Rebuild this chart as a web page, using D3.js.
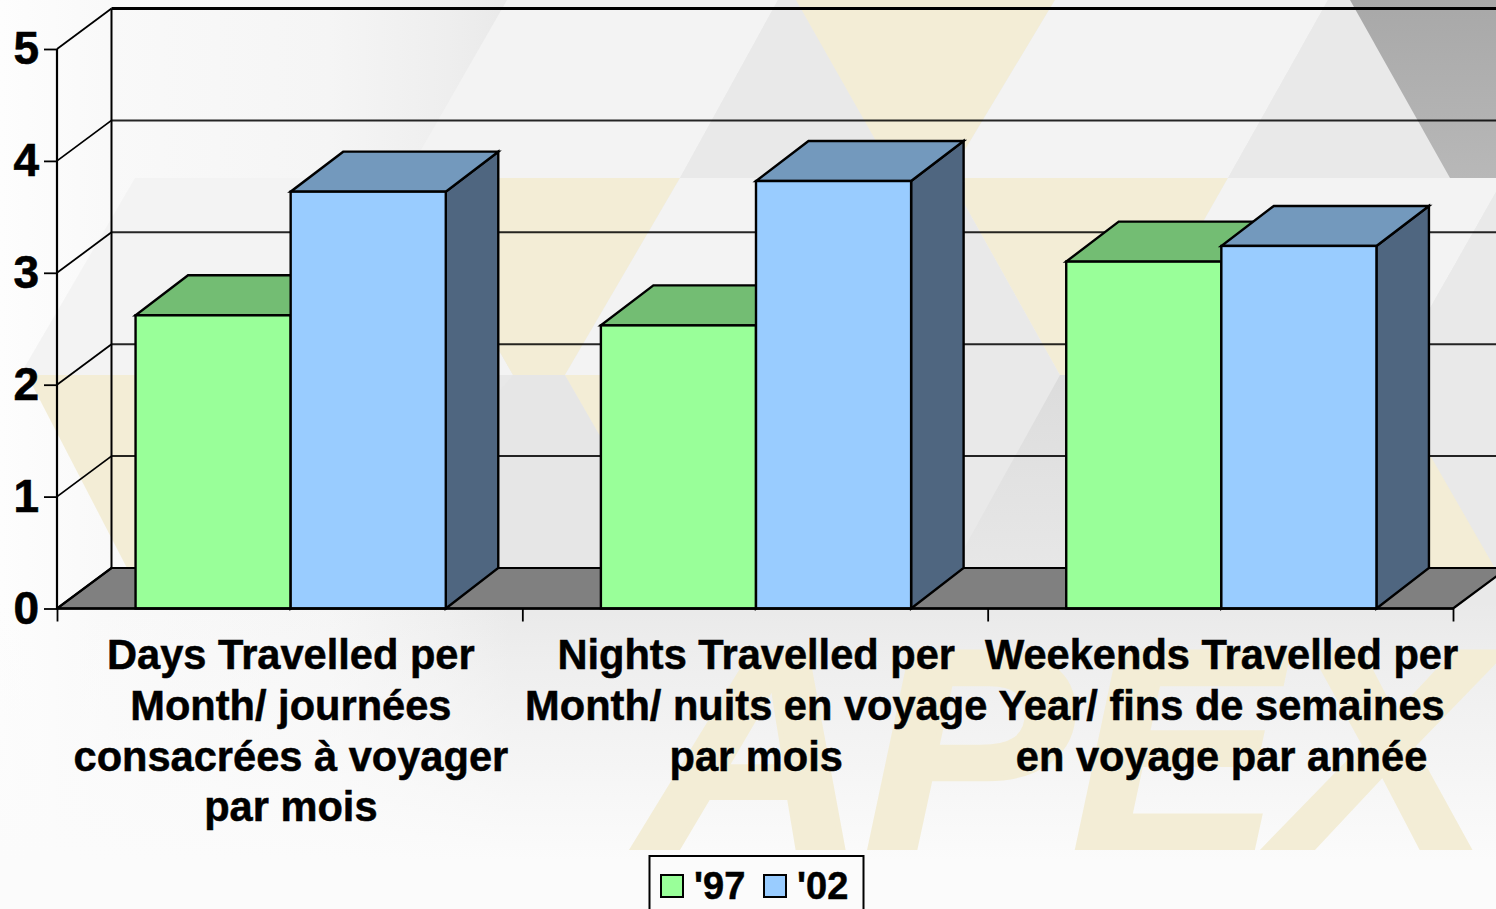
<!DOCTYPE html>
<html><head><meta charset="utf-8">
<script src="https://cdn.jsdelivr.net/npm/d3@7"></script>
<style>html,body{margin:0;padding:0;background:#fff;overflow:hidden}svg{display:block}text{font-family:"Liberation Sans",Arial,sans-serif;font-weight:700;fill:#000}</style>
</head><body><svg id="c" width="1496" height="909"></svg>
<script>
const categories = ["Days Travelled per Month/ journées consacrées à voyager par mois","Nights Travelled per Month/ nuits en voyage par mois","Weekends Travelled per Year/ fins de semaines en voyage par année"];
const categoryLines = [
  ["Days Travelled per","Month/ journées","consacrées à voyager","par mois"],
  ["Nights Travelled per","Month/ nuits en voyage","par mois"],
  ["Weekends Travelled per","Year/ fins de semaines","en voyage par année"]
];
const seriesNames = ["'97","'02"];
const values97 = [2.62,2.53,3.10];
const values02 = [3.725,3.82,3.24];
const yTicks = [0,1,2,3,4,5];

const seriesColors = {"'97":{front:"#99ff99",top:"#73bd73",side:"#4f8050"},"'02":{front:"#99ccff",top:"#7399bd",side:"#4f6680"}};
const Y = "#f3edd6", F3 = "#f3f3f3", E8 = "#e9e9e9";
const backdrop = [
  [F3,[[507,0],[778,0],[680,178],[405,178]]],
  [E8,[[778,0],[800,0],[897,178],[680,178]]],
  [Y,[[796,0],[1055,0],[948,178],[897,178]]],
  [F3,[[1055,0],[1328,0],[1228,178],[948,178]]],
  [E8,[[1328,0],[1350,0],[1450,178],[1228,178]]],
  ["url(#dark)",[[1350,0],[1496,0],[1496,178],[1450,178]]],
  [F3,[[135,178],[400,178],[513,375],[20,375]]],
  [Y,[[400,178],[680,178],[565,375],[513,375]]],
  [F3,[[680,178],[950,178],[1060,375],[565,375]]],
  [E8,[[950,178],[1060,375],[800,375]]],
  [Y,[[950,178],[1228,178],[1116,375],[1060,375]]],
  [F3,[[1228,178],[1504,178],[1392,375],[1116,375]]],
  [E8,[[1504,178],[1496,375],[1392,375]]],
  [Y,[[27,375],[300,375],[300,570],[128,570]]],
  ["#e8e8e8",[[300,375],[513,375],[620,570],[300,570]]],
  [F3,[[513,375],[565,375],[510,470]]],
  ["#e6e6e6",[[513,375],[565,375],[620,470],[620,570],[500,570],[500,390]]],
  [Y,[[565,375],[800,375],[700,570],[677,570]]],
  ["#e9e9e9",[[800,375],[1060,375],[950,570],[700,570]]],
  ["url(#wedge)",[[1060,375],[1120,375],[1120,570],[952,570]]],
  [E8,[[1120,375],[1496,375],[1496,570],[1120,570]]],
  [Y,[[1384,375],[1496,570],[1384,570]]]
];

const W=1496,H=909;
const front={left:57,right:1453,y0:608.5,y5:49};
const depth={wallX:54.5,barX:52.5,wallDy:-40.5,barDy:-40};
const barShift=1;
const svg=d3.select("#c");
const defs=svg.append("defs");
const lg=(id,x2,y2,stops)=>{const g=defs.append("linearGradient").attr("id",id).attr("x1",0).attr("y1",0).attr("x2",x2).attr("y2",y2);
  stops.forEach(([o,c,a])=>g.append("stop").attr("offset",o).attr("stop-color",c).attr("stop-opacity",a==null?1:a));};
lg("base",1,0,[[0,"#fdfdfd"],[.07,"#f9f9f9"],[.22,"#f5f5f5"],[.3,"#eeeeee"],[.34,"#e9e9e9"],[1,"#e9e9e9"]]);
lg("fade",0,1,[[0,"#fbfbfb",0],[.25,"#fbfbfb",.3],[1,"#fbfbfb",1]]);
lg("dark",0,1,[[0,"#a8a8a8"],[1,"#b8b8b8"]]);
lg("wedge",0,1,[[0,"#dcdcdc"],[1,"#e7e7e7"]]);

const bg=svg.append("g");
bg.append("rect").attr("width",W).attr("height",H).attr("fill","url(#base)");
bg.selectAll("polygon").data(backdrop).join("polygon").attr("fill",d=>d[0]).attr("points",d=>d[1].join(" "));
bg.append("rect").attr("y",570).attr("width",W).attr("height",H-570).attr("fill","url(#base)");
bg.append("rect").attr("y",600).attr("width",W).attr("height",260).attr("fill","url(#fade)");
bg.append("rect").attr("y",860).attr("width",W).attr("height",H-860).attr("fill","#fbfbfb");
bg.append("text").text("APEX").attr("x",640).attr("y",847.5).attr("font-size",284).attr("font-style","italic")
  .attr("textLength",848).attr("lengthAdjust","spacingAndGlyphs").style("fill",Y)
  .attr("stroke",Y).attr("stroke-width",5).attr("stroke-linejoin","miter");

const y=d3.scaleLinear().domain([0,5]).range([front.y0,front.y5]);
const x0=d3.scaleBand().domain(categories).range([front.left,front.right]).paddingInner(1/3).paddingOuter(1/6);
const x1=d3.scaleBand().domain(seriesNames).range([0,x0.bandwidth()]);
const ink="#000";

// floor
svg.append("polygon").attr("fill","#808080").attr("stroke",ink).attr("stroke-width",2.2).attr("stroke-linejoin","round")
  .attr("points",[[front.left,y(0)],[front.right,y(0)],[front.right+depth.wallX,y(0)+depth.wallDy],[front.left+depth.wallX,y(0)+depth.wallDy]].join(" "));
// gridlines on back and side wall
const gy=svg.append("g").attr("fill","none").attr("stroke",ink);
gy.selectAll("line.back").data(yTicks.filter(t=>t>0)).join("line").attr("class","back")
  .attr("x1",front.left+depth.wallX).attr("x2",W+20).attr("y1",d=>y(d)+depth.wallDy).attr("y2",d=>y(d)+depth.wallDy)
  .attr("stroke-width",d=>d===5?2.8:2).attr("stroke-opacity",d=>d===5?1:.85);
gy.selectAll("line.side").data(yTicks).join("line").attr("class","side")
  .attr("x1",front.left).attr("x2",front.left+depth.wallX).attr("y1",d=>y(d)).attr("y2",d=>y(d)+depth.wallDy).attr("stroke-width",1.8);
gy.append("line").attr("x1",front.left+depth.wallX).attr("x2",front.left+depth.wallX).attr("y1",y(5)+depth.wallDy).attr("y2",y(0)+depth.wallDy).attr("stroke-width",2);

// bars
const bars=svg.append("g").selectAll("g").data(categories).join("g").attr("transform",c=>`translate(${x0(c)+barShift},0)`);
const rows=(c,i)=>[{s:"'97",v:values97[i]},{s:"'02",v:values02[i]}];
const bar=bars.selectAll("g").data(rows).join("g").attr("stroke",ink).attr("stroke-width",2.4).attr("stroke-linejoin","miter");
bar.append("polygon").attr("fill",d=>seriesColors[d.s].side).attr("points",d=>{const r=x1(d.s)+x1.bandwidth();
  return [[r,y(d.v)],[r+depth.barX,y(d.v)+depth.barDy],[r+depth.barX,y(0)+depth.wallDy],[r,y(0)]].join(" ");});
bar.append("polygon").attr("fill",d=>seriesColors[d.s].top).attr("points",d=>{const l=x1(d.s),r=l+x1.bandwidth();
  return [[l,y(d.v)],[r,y(d.v)],[r+depth.barX,y(d.v)+depth.barDy],[l+depth.barX,y(d.v)+depth.barDy]].join(" ");});
bar.append("rect").attr("fill",d=>seriesColors[d.s].front).attr("x",d=>x1(d.s)).attr("width",x1.bandwidth())
  .attr("y",d=>y(d.v)).attr("height",d=>y(0)-y(d.v));

// axes
const yAxis=d3.axisLeft(y).tickValues(yTicks).tickFormat(d3.format("d")).tickSize(13).tickPadding(5);
const ga=svg.append("g").attr("transform",`translate(${front.left},0)`).call(yAxis);
ga.attr("font-family",null);
ga.select(".domain").attr("stroke",ink).attr("stroke-width",2.2).attr("d",`M0,${y(5)}V${y(0)}`);
ga.selectAll(".tick line").attr("stroke",ink).attr("stroke-width",1.8);
ga.selectAll(".tick text").attr("font-size",46).attr("stroke","#000").attr("stroke-width",.6).style("fill","#000");

const xEdges=d3.range(categories.length+1).map(i=>front.left+i*x0.step());
const xb=d3.axisBottom(d3.scaleIdentity()).tickValues(xEdges).tickSize(13).tickFormat("");
const gb=svg.append("g").attr("transform",`translate(0,${y(0)})`).call(xb);
gb.select(".domain").attr("stroke",ink).attr("stroke-width",2.6).attr("d",`M${front.left},0H${front.right}`);
gb.selectAll(".tick line").attr("stroke",ink).attr("stroke-width",1.8);

// category labels
const lineY=[669,720,771,821];
svg.append("g").selectAll("text").data(categories).join("text").attr("text-anchor","middle").attr("font-size",41.6)
  .attr("stroke","#000").attr("stroke-width",.5)
  .attr("transform",c=>`translate(${x0(c)+x0.bandwidth()/2+1.2},0)`)
  .selectAll("tspan").data((c,i)=>categoryLines[i]).join("tspan").attr("x",0).attr("y",(d,i)=>lineY[i]).text(d=>d);

// legend
const lg2=svg.append("g");
lg2.append("rect").attr("x",649.5).attr("y",856).attr("width",214).attr("height",70).attr("fill","none").attr("stroke",ink).attr("stroke-width",2);
const li=lg2.selectAll("g").data(seriesNames).join("g").attr("transform",(d,i)=>`translate(${661+i*103},0)`);
li.append("rect").attr("y",875).attr("width",22).attr("height",22).attr("fill",d=>seriesColors[d].front).attr("stroke",ink).attr("stroke-width",2);
li.append("text").attr("x",33).attr("y",899).attr("font-size",38).attr("stroke","#000").attr("stroke-width",.5).text(d=>d);
</script></body></html>
